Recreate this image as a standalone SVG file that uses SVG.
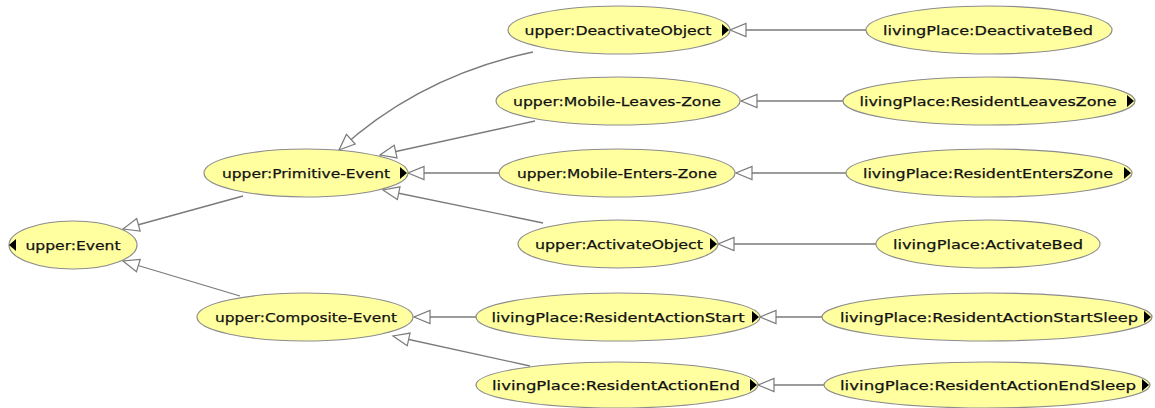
<svg xmlns="http://www.w3.org/2000/svg" width="1155" height="408" viewBox="0 0 1155 408">
  <style>
    .node ellipse { fill: #ffffa0; stroke: #8c8c8c; stroke-width: 1.2; }
    .node text { font-family: "DejaVu Sans", "Liberation Sans", sans-serif; font-size: 13px; fill: #111; stroke: #111; stroke-width: 0.25; text-anchor: middle; }
    .node .tri { fill: #000; }
    #edges path { fill: none; stroke: #7a7a7a; stroke-width: 1.3; marker-end: url(#isa); }
  </style>
  <defs>
    <!-- hollow "is-a" arrowhead, tip at the parent's outline -->
    <marker id="isa" markerUnits="userSpaceOnUse" markerWidth="20" markerHeight="16" viewBox="-17 -8 19 16" refX="0" refY="0" orient="auto">
      <path d="M0,0 L-16,-6.5 L-16,6.5 Z" fill="#fff" stroke="#7a7a7a" stroke-width="1.2"/>
    </marker>
  </defs>

  <g id="edges">
    <path d="M243,196 L123,229"/>
    <path d="M240,296 L123,261"/>
    <path d="M533,52 Q420,76 339,150"/>
    <path d="M535,121 L380,155"/>
    <path d="M499,173 L408,173"/>
    <path d="M543,223 L383,190"/>
    <path d="M866,30 L730,30"/>
    <path d="M843,101 L741,101"/>
    <path d="M846,173 L736,173"/>
    <path d="M876,244 L718,244"/>
    <path d="M477,317 L414,317"/>
    <path d="M530,366 L393,336"/>
    <path d="M822,317 L760,317"/>
    <path d="M824,385 L758,385"/>
  </g>

  <g id="event" class="node">
    <ellipse cx="73" cy="245" rx="64" ry="24"/>
    <path class="tri" d="M9,245 L16,239 L16,251 Z"/>
    <text x="73" y="250" textLength="95" lengthAdjust="spacingAndGlyphs">upper:Event</text>
  </g>
  <g id="primitive-event" class="node">
    <ellipse cx="306" cy="173" rx="102" ry="24"/>
    <path class="tri" d="M407,173 L400,167 L400,179 Z"/>
    <text x="306" y="178" textLength="168" lengthAdjust="spacingAndGlyphs">upper:Primitive-Event</text>
  </g>
  <g id="composite-event" class="node">
    <ellipse cx="305" cy="317" rx="108" ry="24"/>
    <text x="306" y="322" textLength="182" lengthAdjust="spacingAndGlyphs">upper:Composite-Event</text>
  </g>
  <g id="deactivate-object" class="node">
    <ellipse cx="619" cy="30" rx="111" ry="24"/>
    <path class="tri" d="M729,30 L722,24 L722,36 Z"/>
    <text x="618" y="35" textLength="187" lengthAdjust="spacingAndGlyphs">upper:DeactivateObject</text>
  </g>
  <g id="deactivate-bed" class="node">
    <ellipse cx="989" cy="30" rx="123" ry="24"/>
    <text x="988" y="35" textLength="210" lengthAdjust="spacingAndGlyphs">livingPlace:DeactivateBed</text>
  </g>
  <g id="mobile-leaves-zone" class="node">
    <ellipse cx="618" cy="101" rx="122" ry="24"/>
    <text x="617" y="106" textLength="208" lengthAdjust="spacingAndGlyphs">upper:Mobile-Leaves-Zone</text>
  </g>
  <g id="resident-leaves-zone" class="node">
    <ellipse cx="989" cy="101" rx="146" ry="24"/>
    <path class="tri" d="M1134,101 L1127,95 L1127,107 Z"/>
    <text x="988" y="106" textLength="257" lengthAdjust="spacingAndGlyphs">livingPlace:ResidentLeavesZone</text>
  </g>
  <g id="mobile-enters-zone" class="node">
    <ellipse cx="617" cy="173" rx="118" ry="24"/>
    <text x="617" y="178" textLength="200" lengthAdjust="spacingAndGlyphs">upper:Mobile-Enters-Zone</text>
  </g>
  <g id="resident-enters-zone" class="node">
    <ellipse cx="989" cy="173" rx="143" ry="24"/>
    <path class="tri" d="M1131,173 L1124,167 L1124,179 Z"/>
    <text x="988" y="178" textLength="250" lengthAdjust="spacingAndGlyphs">livingPlace:ResidentEntersZone</text>
  </g>
  <g id="activate-object" class="node">
    <ellipse cx="618" cy="244" rx="100" ry="24"/>
    <path class="tri" d="M717,244 L710,238 L710,250 Z"/>
    <text x="619" y="249" textLength="168" lengthAdjust="spacingAndGlyphs">upper:ActivateObject</text>
  </g>
  <g id="activate-bed" class="node">
    <ellipse cx="988" cy="244" rx="112" ry="24"/>
    <text x="988" y="249" textLength="190" lengthAdjust="spacingAndGlyphs">livingPlace:ActivateBed</text>
  </g>
  <g id="resident-action-start" class="node">
    <ellipse cx="618" cy="317" rx="142" ry="24"/>
    <path class="tri" d="M759,317 L752,311 L752,323 Z"/>
    <text x="618" y="322" textLength="253" lengthAdjust="spacingAndGlyphs">livingPlace:ResidentActionStart</text>
  </g>
  <g id="resident-action-start-sleep" class="node">
    <ellipse cx="987" cy="317" rx="165" ry="24"/>
    <path class="tri" d="M1151,317 L1144,311 L1144,323 Z"/>
    <text x="989" y="322" textLength="298" lengthAdjust="spacingAndGlyphs">livingPlace:ResidentActionStartSleep</text>
  </g>
  <g id="resident-action-end" class="node">
    <ellipse cx="617" cy="385" rx="141" ry="23"/>
    <path class="tri" d="M757,385 L750,379 L750,391 Z"/>
    <text x="616" y="390" textLength="248" lengthAdjust="spacingAndGlyphs">livingPlace:ResidentActionEnd</text>
  </g>
  <g id="resident-action-end-sleep" class="node">
    <ellipse cx="987" cy="385" rx="163" ry="23"/>
    <path class="tri" d="M1149,385 L1142,379 L1142,391 Z"/>
    <text x="988" y="390" textLength="296" lengthAdjust="spacingAndGlyphs">livingPlace:ResidentActionEndSleep</text>
  </g>
</svg>
